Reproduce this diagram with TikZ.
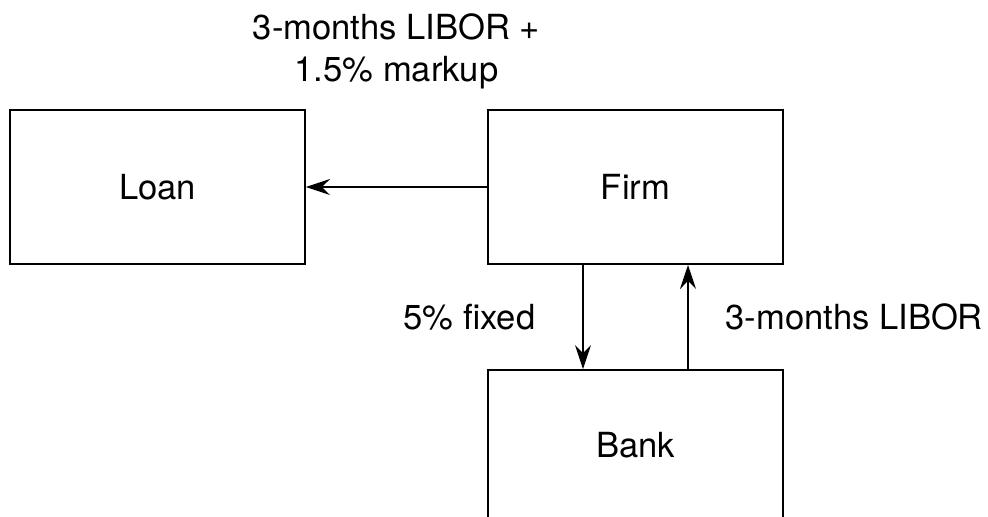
\documentclass[tikz,border=0pt]{standalone}
\usepackage{fontspec}
\setmainfont{TeX Gyre Heros}
\usetikzlibrary{arrows.meta, positioning}

\begin{document}
\begin{tikzpicture}[x=0.025cm, y=-0.025cm,
        caja/.style={rectangle, draw, line width=1.3pt, minimum width=7.375cm, minimum height=3.85cm, align=center, font=\fontsize{24.6}{30}\selectfont},
        etiqueta/.style={align=center, font=\fontsize{24.6}{30}\selectfont},
        flecha/.style={-{Stealth[length=6mm, width=4mm, inset=2mm]}, line width=1.3pt}]

        \useasboundingbox (0,0) rectangle (988,516);

        \node[caja] (loan) at (157.5,187) {Loan};
        \node[caja] (firm) at (635.5,187) {Firm};
        \node[caja, minimum height=3.75cm] (bank) at (635.5,445) {Bank};

        \draw[flecha] (firm.west) -- node[etiqueta, above=2.3cm] (markup) {3-months LIBOR +\\1.5\% markup} (loan.east);

        % Swap
        \draw[flecha] ([xshift=-1.3125cm]firm.south) -- node[etiqueta, left=1.05cm] (fijo) {5\% fixed} ([xshift=-1.3125cm]bank.north);
        \draw[flecha] ([xshift=1.3125cm]bank.north) -- node[etiqueta, right=0.8cm] (libor) {3-months LIBOR} ([xshift=1.3125cm]firm.south);
    \end{tikzpicture}
\end{document}
